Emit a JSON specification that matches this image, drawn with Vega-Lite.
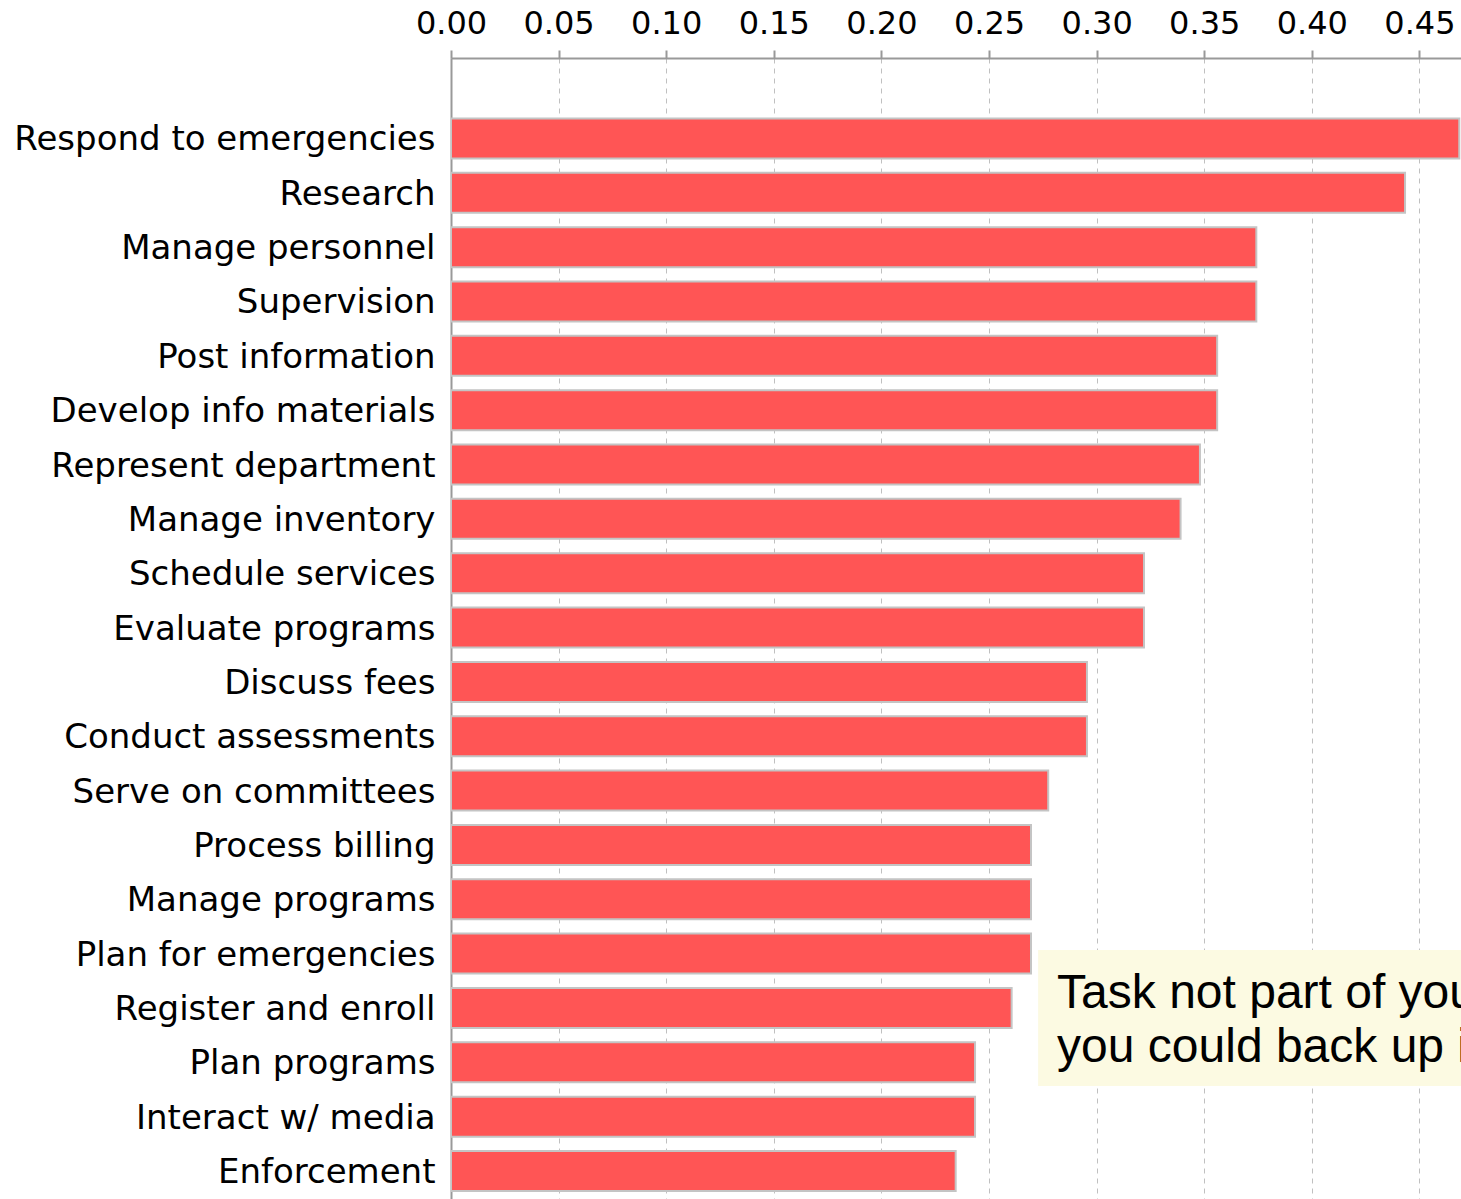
{
  "$schema": "https://vega.github.io/schema/vega-lite/v6.json",
  "autosize": {"type": "none"},
  "padding": {"left": 451, "top": 58, "right": 0, "bottom": 0},
  "width": 1010,
  "height": 1141,
  "background": "white",
  "config": {
    "view": {"stroke": null},
    "axis": {"labelFont": "DejaVu Sans", "labelColor": "#000000", "title": null}
  },
  "datasets": {
    "tasks": [
      {"task": "Respond to emergencies", "value": 0.4685},
      {"task": "Research", "value": 0.4433},
      {"task": "Manage personnel", "value": 0.3742},
      {"task": "Supervision", "value": 0.3742},
      {"task": "Post information", "value": 0.3560},
      {"task": "Develop info materials", "value": 0.3560},
      {"task": "Represent department", "value": 0.3480},
      {"task": "Manage inventory", "value": 0.3390},
      {"task": "Schedule services", "value": 0.3220},
      {"task": "Evaluate programs", "value": 0.3220},
      {"task": "Discuss fees", "value": 0.2955},
      {"task": "Conduct assessments", "value": 0.2955},
      {"task": "Serve on committees", "value": 0.2775},
      {"task": "Process billing", "value": 0.2695},
      {"task": "Manage programs", "value": 0.2695},
      {"task": "Plan for emergencies", "value": 0.2695},
      {"task": "Register and enroll", "value": 0.2605},
      {"task": "Plan programs", "value": 0.2435},
      {"task": "Interact w/ media", "value": 0.2435},
      {"task": "Enforcement", "value": 0.2345}
    ],
    "note": [
      {"anchor": "Register and enroll", "start": 0.2728, "end": 0.52, "text": "Task not part of your job, but"},
      {"anchor": "Plan programs", "start": 0.2728, "end": 0.52, "text": "you could back up if needed"}
    ]
  },
  "layer": [
    {
      "data": {"name": "tasks"},
      "mark": {"type": "bar", "color": "#ff5555", "stroke": "#c4c4c4", "strokeWidth": 2, "clip": true},
      "encoding": {
        "y": {
          "field": "task", "type": "nominal", "sort": null,
          "scale": {
            "domain": ["Respond to emergencies", "Research", "Manage personnel", "Supervision", "Post information", "Develop info materials", "Represent department", "Manage inventory", "Schedule services", "Evaluate programs", "Discuss fees", "Conduct assessments", "Serve on committees", "Process billing", "Manage programs", "Plan for emergencies", "Register and enroll", "Plan programs", "Interact w/ media", "Enforcement"],
            "paddingInner": 0.264, "paddingOuter": 0.63, "align": 0.883
          },
          "axis": {
            "orient": "left", "ticks": false, "tickSize": 0, "grid": false,
            "domainColor": "#999999", "domainWidth": 2,
            "labelFontSize": 34, "labelPadding": 16, "labelLimit": 500, "labelOffset": 2
          }
        },
        "x": {
          "field": "value", "type": "quantitative",
          "scale": {"domain": [0, 0.4693], "nice": false, "zero": true},
          "axis": {
            "orient": "top", "values": [0, 0.05, 0.1, 0.15, 0.2, 0.25, 0.3, 0.35, 0.4, 0.45],
            "format": ".2f", "labelFontSize": 32, "labelPadding": 10,
            "tickSize": 8, "tickColor": "#999999", "tickWidth": 2,
            "domainColor": "#999999", "domainWidth": 2,
            "grid": true, "gridColor": "#c0c0c0", "gridDash": [5, 5], "gridWidth": 1,
            "labelFlush": false, "labelOverlap": false
          }
        }
      }
    },
    {
      "data": {"name": "note"},
      "transform": [{"filter": "datum.anchor === 'Register and enroll'"}],
      "mark": {"type": "bar", "color": "#fcfae2", "height": 136, "yOffset": 10, "clip": true},
      "encoding": {
        "y": {"field": "anchor", "type": "nominal"},
        "x": {"field": "start", "type": "quantitative"},
        "x2": {"field": "end"}
      }
    },
    {
      "data": {"name": "note"},
      "mark": {"type": "text", "font": "Liberation Sans", "fontSize": 48, "align": "left", "baseline": "alphabetic", "dx": 19, "dy": 0, "color": "#000000", "clip": true},
      "encoding": {
        "y": {"field": "anchor", "type": "nominal"},
        "x": {"field": "start", "type": "quantitative"},
        "text": {"field": "text"}
      }
    }
  ]
}
